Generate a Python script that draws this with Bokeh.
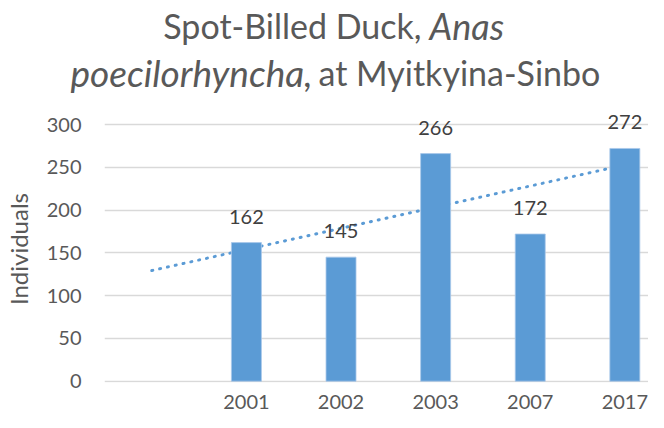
import numpy as np
from bokeh.plotting import figure
from bokeh.models import Range1d, FixedTicker, ColumnDataSource, LabelSet, Label
from bokeh.layouts import column, row
from bokeh.core.properties import value
from bokeh.embed import file_html
from bokeh.resources import INLINE

# ---- data ----
years = ["2001", "2002", "2003", "2007", "2017"]
counts = [162, 145, 266, 172, 272]
y_ticks = [0, 50, 100, 150, 200, 250, 300]
title_l1_a = "Spot-Billed Duck,"
title_l1_b = "Anas"
title_l2_a = "poecilorhyncha,"
title_l2_b = "at Myitkyina-Sinbo"
y_label = "Individuals"

FONT = "Lato"
GREY = "#595959"
BLUE = "#5B9BD5"

# category positions (first slot of the category axis is empty)
xpos = np.arange(1, len(years) + 1)

# linear trendline (Excel style, extended one period backward)
slope, intercept = np.polyfit(xpos, counts, 1)
tx = np.array([0, len(years)])
ty = slope * tx + intercept

def bare(fig):
    fig.grid.visible = False
    fig.outline_line_color = None
    return fig

W, H = 648, 412
TH = 104          # title strip height
MH = H - TH       # main row height
LW = 40           # y-title strip width

# ---- title figure ----
pt = bare(figure(width=W, height=TH, x_range=Range1d(0, W), y_range=Range1d(0, TH),
                 x_axis_location=None, y_axis_location=None,
                 toolbar_location=None, output_backend="svg", min_border=0))
title_parts = [
    (421, TH - 25, title_l1_a, "normal", "right", "34px"),
    (429, TH - 25, title_l1_b, "italic", "left", "36px"),
    (312, TH - 72, title_l2_a, "italic", "right", "37px"),
    (318, TH - 72, title_l2_b, "normal", "left", "34px"),
]
for x, y, t, st, al, fs in title_parts:
    pt.add_layout(Label(x=x, y=y, text=t, text_font=FONT, text_font_size=fs,
                        text_font_style=st, text_align=al, text_baseline="alphabetic",
                        text_color=GREY))

# ---- y-axis title strip ----
pl = bare(figure(width=LW, height=MH, x_range=Range1d(0, LW), y_range=Range1d(0, MH),
                 x_axis_location=None, y_axis_location=None,
                 toolbar_location=None, output_backend="svg", min_border=0))
pl.add_layout(Label(x=18, y=MH - (251 - TH) - 11, text=y_label, angle=np.pi / 2,
                    text_font=FONT, text_font_size="24px", text_align="center",
                    text_baseline="middle", text_color=GREY))

# ---- main chart ----
p = figure(width=W - LW, height=MH, x_range=Range1d(-0.5, 5.25), y_range=Range1d(-1.52, 318.7),
           toolbar_location=None, output_backend="svg",
           min_border_left=104 - LW, min_border_right=0, min_border_top=4, min_border_bottom=30)
p.outline_line_color = None
p.xgrid.visible = False
p.ygrid.ticker = FixedTicker(ticks=y_ticks)
p.ygrid.grid_line_color = "#D9D9D9"
p.ygrid.grid_line_width = 1.3

p.line(tx, ty, line_color=BLUE, line_width=3, line_dash="1 7", line_cap="round")

src = ColumnDataSource(dict(x=xpos, y=counts, lab=[str(c) for c in counts]))
p.vbar(x="x", top="y", bottom=0, width=0.317, source=src, fill_color=BLUE,
       line_color="#A9C8EA", line_width=0.8)

p.add_layout(LabelSet(x="x", y="y", text="lab", source=src, y_offset=19,
                      text_align="center", text_baseline="alphabetic",
                      text_font=value(FONT), text_font_size="20px", text_color="#404040"))

p.yaxis.ticker = FixedTicker(ticks=y_ticks)
p.yaxis.axis_line_color = None
p.yaxis.major_tick_line_color = None
p.yaxis.minor_tick_line_color = None
p.yaxis.major_tick_out = 0
p.yaxis.major_tick_in = 0
p.yaxis.major_label_standoff = 23
p.yaxis.major_label_text_font = FONT
p.yaxis.major_label_text_font_size = "20px"
p.yaxis.major_label_text_color = GREY

p.xaxis.ticker = FixedTicker(ticks=list(xpos))
p.xaxis.major_label_overrides = {int(x): y for x, y in zip(xpos, years)}
p.xaxis.axis_line_color = None
p.xaxis.major_tick_line_color = None
p.xaxis.minor_tick_line_color = None
p.xaxis.major_tick_out = 0
p.xaxis.major_tick_in = 0
p.xaxis.major_label_standoff = 12
p.xaxis.major_label_text_line_height = 0.85
p.xaxis.major_label_text_font = FONT
p.xaxis.major_label_text_font_size = "20px"
p.xaxis.major_label_text_color = GREY

layout = column(pt, row(pl, p, spacing=0), spacing=0)
open("out.html", "w").write(file_html(layout, INLINE))
